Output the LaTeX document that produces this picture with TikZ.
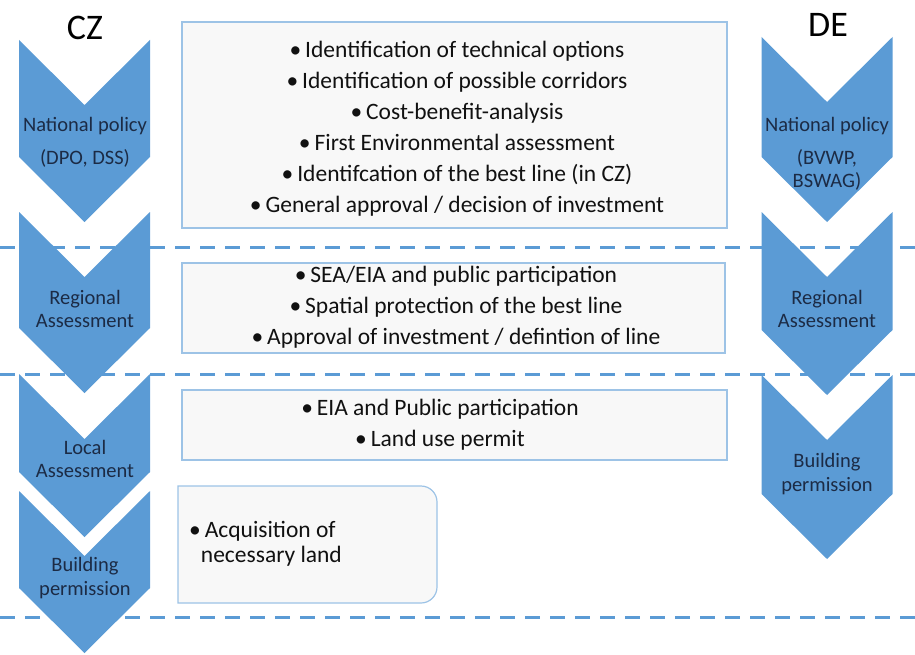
\documentclass[tikz,border=0pt]{standalone}
\usepackage{fontspec}
\setmainfont{Carlito}
\definecolor{chev}{HTML}{5B9BD5}
\definecolor{boxline}{HTML}{9DC3E6}
\definecolor{boxfill}{HTML}{F8F8F8}
\definecolor{navy}{HTML}{1C2B45}
\definecolor{ink}{HTML}{111111}
\begin{document}
\begin{tikzpicture}[x=1pt,y=-1pt,
  chevtxt/.style={text=navy,font=\fontsize{20.5}{23.5}\selectfont,align=center,inner sep=0pt},
  infobox/.style={draw=boxline,fill=boxfill,line width=1.2pt},
  infotxt/.style={text=ink,font=\fontsize{23.5}{31}\selectfont,align=center,inner sep=0pt},
  sep/.style={draw=chev,line width=3pt,dash pattern=on 15pt off 10pt},
  head/.style={font=\fontsize{36}{36}\selectfont,text=black,inner sep=0pt}]
\useasboundingbox (0,0) rectangle (915,655);
\tikzset{chevron/.pic={\fill[chev] (-65.5,0) -- (0,65) -- (65.5,0) -- (65.5,\tikzchevlen-65) -- (0,\tikzchevlen) -- (-65.5,\tikzchevlen-65) -- cycle;}}
% CZ chevrons
\def\tikzchevlen{182}\pic at (84.5,40) {chevron};
\def\tikzchevlen{181}\pic at (84.5,212) {chevron};
\def\tikzchevlen{163}\pic at (84.5,374) {chevron};
\def\tikzchevlen{162}\pic at (84.5,491) {chevron};
% DE chevrons
\def\tikzchevlen{185}\pic at (827,37) {chevron};
\def\tikzchevlen{183}\pic at (827,212) {chevron};
\def\tikzchevlen{184}\pic at (827,375) {chevron};
% dashed separators
\coordinate (s1l) at (0,247); \coordinate (s1r) at (915,247);
\coordinate (s2l) at (0,374); \coordinate (s2r) at (915,374);
\coordinate (s3l) at (0,617); \coordinate (s3r) at (915,617);
\draw[sep] (s1l) -- (s1r);
\draw[sep] (s2l) -- (s2r);
\draw[sep] (s3l) -- (s3r);
% headings
\node[head] (cz) at (85,28) {CZ};
\node[head] (de) at (828,25) {DE};
% chevron labels
\node[chevtxt] (cz1a) at (85,126) {National policy};
\node[chevtxt] (cz1b) at (85,158) {(DPO, DSS)};
\node[chevtxt] (cz2) at (85,309) {Regional\\Assessment};
\node[chevtxt] (cz3) at (85,459) {Local\\Assessment};
\node[chevtxt] (cz4) at (85,578) {Building\\permission};
\node[chevtxt] (de1a) at (827,126) {National policy};
\node[chevtxt] (de1b) at (827,170) {(BVWP,\\BSWAG)};
\node[chevtxt] (de2) at (827,309) {Regional\\Assessment};
\node[chevtxt] (de3) at (827,474) {Building\\permission};
% boxes
\draw[infobox] (182,22) rectangle (727,228);
\draw[infobox] (182,263) rectangle (725,353);
\draw[infobox] (182,390) rectangle (727,460);
\draw[infobox] (178,486) -- (421,486) arc[start angle=90,end angle=0,x radius=16,y radius=-16] -- (437,587) arc[start angle=0,end angle=-90,x radius=16,y radius=-16] -- (178,603) -- cycle;
% box texts
\node[infotxt] (b1) at (457,129) {\textbullet\,Identification of technical options\\
\textbullet\,Identification of possible corridors\\
\textbullet\,Cost-benefit-analysis\\
\textbullet\,First Environmental assessment\\
\textbullet\,Identifcation of the best line (in CZ)\\
\textbullet\,General approval / decision of investment};
\node[infotxt] (b2) at (456,307) {\textbullet\,SEA/EIA and public participation\\
\textbullet\,Spatial protection of the best line\\
\textbullet\,Approval of investment / defintion of line};
\node[infotxt] (b3) at (440,425) {\textbullet\,EIA and Public participation\\
\textbullet\,Land use permit};
\node[infotxt,align=left,anchor=west,font=\fontsize{23.5}{25}\selectfont] (b4) at (189,544) {\textbullet\,Acquisition of\\\hspace{0.5em}necessary land};
\end{tikzpicture}
\end{document}
